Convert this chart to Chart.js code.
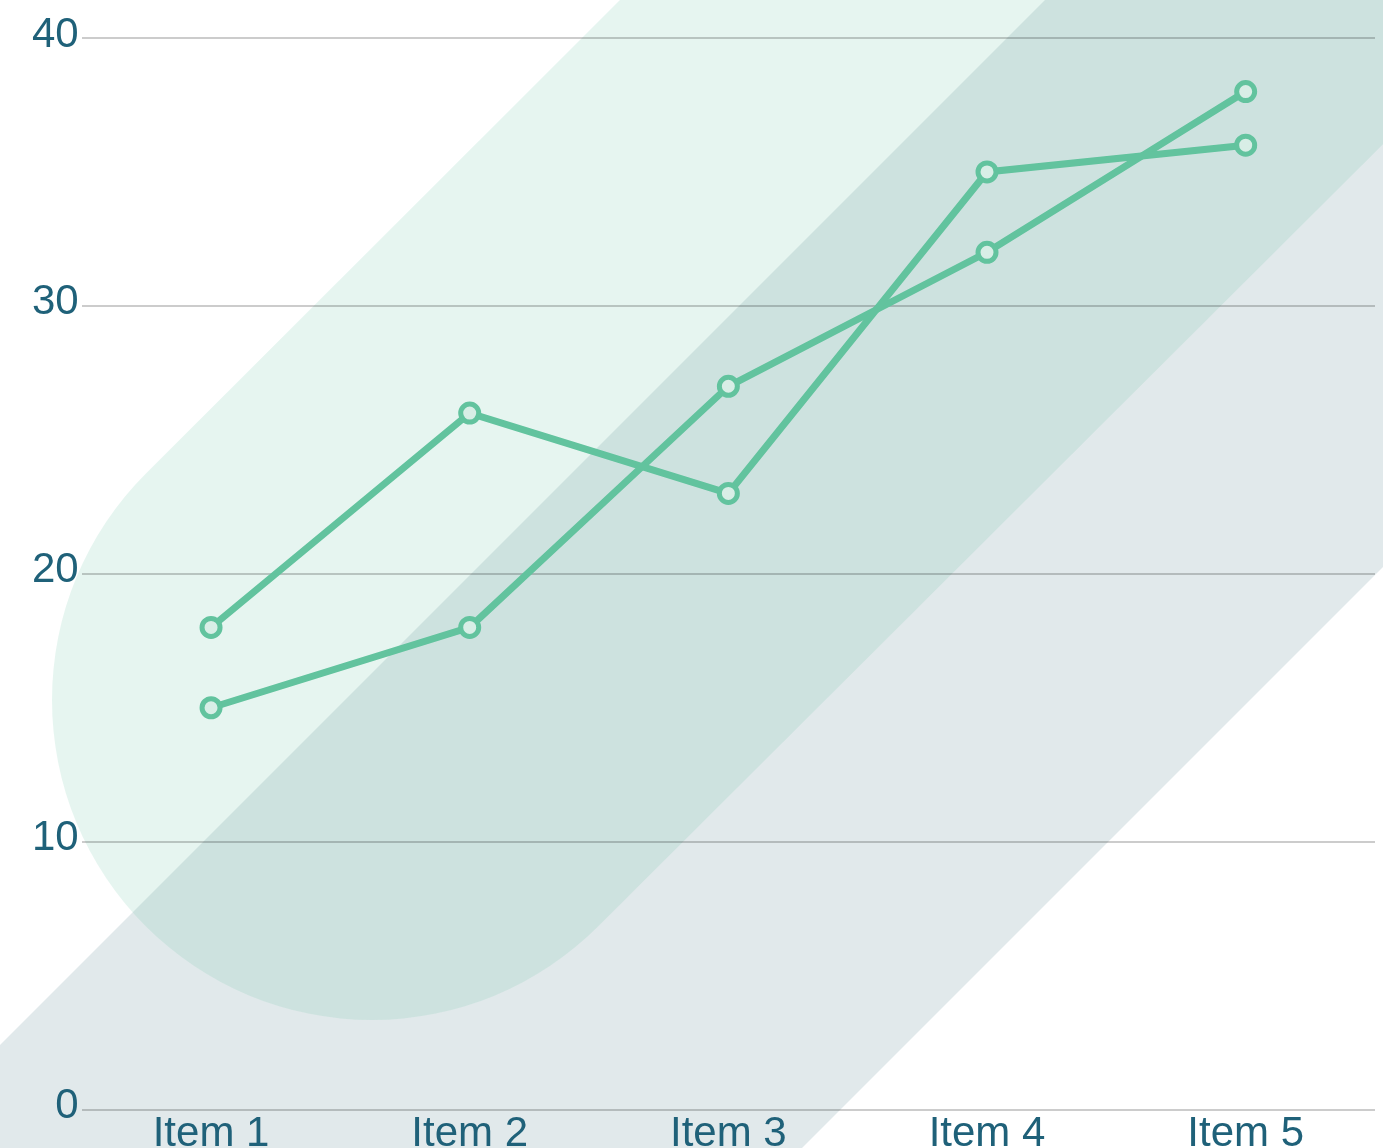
<!DOCTYPE html>
<html>
<head>
<meta charset="utf-8">
<script src="https://cdn.jsdelivr.net/npm/chart.js@4/dist/chart.umd.min.js"></script>
<style>
  html, body { margin: 0; padding: 0; background: #fff; overflow: hidden; }
  #wrap { width: 1389px; height: 1160px; position: relative; }
</style>
</head>
<body>
<div id="wrap"><canvas id="myChart"></canvas></div>
<script>
// chart data
var categories = ["Item 1", "Item 2", "Item 3", "Item 4", "Item 5"];
var seriesA = [18, 26, 23, 35, 36];
var seriesB = [15, 18, 27, 32, 38];
var yTicks = [0, 10, 20, 30, 40];

var lineColor = "rgb(98, 195, 158)";
var textColor = "#1f6179";

// decorative diagonal bands behind the plot
var bands = {
  id: "bands",
  beforeDraw: function (chart) {
    var c = chart.ctx;
    var w = chart.width, h = chart.height;
    c.save();
    // grey-blue band, lines x+y=1045 and x+y=1950
    c.fillStyle = "rgba(40, 100, 115, 0.14)";
    c.beginPath();
    c.moveTo(1045, 0);
    c.lineTo(w + 100, 0);
    c.lineTo(w + 100, 1950 - w - 100);
    c.lineTo(1950 - h - 100, h + 100);
    c.lineTo(0, h + 100);
    c.lineTo(0, 1045);
    c.closePath();
    c.fill();
    // green band with round end, lines x+y=620 and x+y=1528
    c.fillStyle = "rgba(98, 194, 160, 0.16)";
    var cx = 372, cy = 700, r = 320;
    c.beginPath();
    c.moveTo(620, 0);
    c.lineTo(w + 200, 0);
    c.lineTo(w + 200, 1528 - w - 200);
    c.lineTo(cx + r / Math.SQRT2, cy + r / Math.SQRT2);
    c.arc(cx, cy, r, Math.PI / 4, Math.PI * 5 / 4, false);
    c.closePath();
    c.fill();
    c.restore();
  }
};

var ctx = document.getElementById("myChart").getContext("2d");
var myChart = new Chart(ctx, {
  type: "line",
  data: {
    labels: categories,
    datasets: [
      {
        label: "Series A",
        data: seriesA,
        borderColor: lineColor,
        borderWidth: 7,
        pointRadius: 9,
        pointBorderWidth: 5,
        pointBorderColor: lineColor,
        pointBackgroundColor: "#d8eee6",
        tension: 0,
        fill: false
      },
      {
        label: "Series B",
        data: seriesB,
        borderColor: lineColor,
        borderWidth: 7,
        pointRadius: 9,
        pointBorderWidth: 5,
        pointBorderColor: lineColor,
        pointBackgroundColor: "#d8eee6",
        tension: 0,
        fill: false
      }
    ]
  },
  options: {
    responsive: true,
    maintainAspectRatio: false,
    animation: false,
    layout: { padding: { top: 38, left: 29, right: 3, bottom: 0 } },
    plugins: {
      legend: { display: false },
      tooltip: { enabled: false }
    },
    scales: {
      x: {
        offset: true,
        grid: { display: false, drawTicks: false },
        border: { display: false },
        ticks: {
          color: textColor,
          padding: 0,
          font: { family: "'Liberation Sans', Arial, sans-serif", size: 42 }
        }
      },
      y: {
        min: 0,
        max: 40,
        afterBuildTicks: function (axis) {
          axis.ticks = yTicks.map(function (v) { return { value: v }; });
        },
        grid: { color: "rgba(0,0,0,0.2)", lineWidth: 2, drawTicks: false },
        border: { display: false },
        ticks: {
          color: textColor,
          padding: 3,
          labelOffset: -3,
          font: { family: "'Liberation Sans', Arial, sans-serif", size: 42 }
        }
      }
    }
  },
  plugins: [bands]
});
</script>
</body>
</html>
